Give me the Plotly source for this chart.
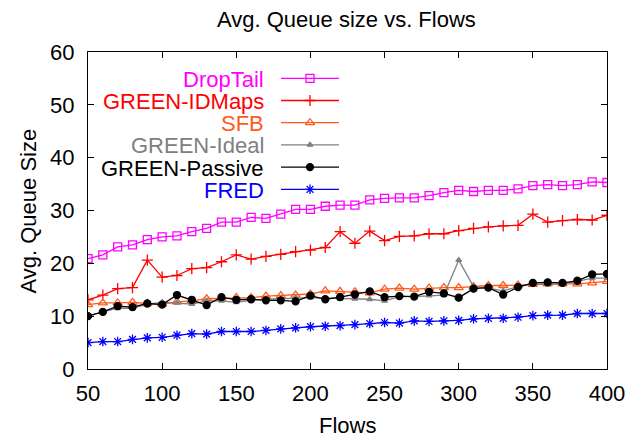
import plotly.graph_objects as go

flows = list(range(50, 401, 10))

droptail = [20.9, 21.6, 23.1, 23.5, 24.5, 25.0, 25.2, 26.0, 26.6, 27.8, 27.8, 28.7,
            28.5, 29.3, 30.2, 30.2, 30.8, 31.0, 31.0, 32.0, 32.3, 32.4, 32.4, 32.8,
            33.4, 33.8, 33.6, 33.8, 33.8, 34.1, 34.7, 34.9, 34.7, 34.9, 35.4, 35.3]
idmaps = [13.1, 14.0, 15.2, 15.4, 20.6, 17.4, 17.7, 19.0, 19.2, 20.3, 21.6, 20.8,
          21.3, 21.7, 22.2, 22.5, 23.0, 26.0, 23.8, 26.1, 24.3, 25.1, 25.2, 25.6,
          25.6, 26.2, 26.6, 26.9, 27.1, 27.2, 29.3, 27.8, 28.1, 28.3, 28.2, 29.1]
sfb = [12.2, 12.5, 12.5, 12.6, 12.4, 12.3, 12.7, 12.9, 13.3, 13.4, 13.5, 13.5,
       13.8, 13.9, 14.0, 14.2, 14.8, 14.7, 14.6, 14.4, 15.1, 15.3, 15.1, 15.3,
       15.4, 15.4, 15.6, 15.8, 15.8, 15.9, 16.0, 16.1, 16.1, 16.1, 16.3, 16.6]
ideal = [10.1, 10.8, 11.5, 11.5, 12.3, 12.6, 12.5, 12.3, 12.9, 12.9, 12.6, 13.0,
         13.2, 13.3, 13.5, 13.5, 13.4, 13.3, 13.3, 13.2, 12.9, 13.7, 13.7, 13.9,
         14.0, 20.6, 15.6, 15.3, 14.8, 15.6, 16.1, 16.0, 16.1, 16.6, 17.2, 17.2]
passive = [10.0, 10.8, 11.9, 11.7, 12.4, 12.2, 14.0, 13.1, 12.1, 13.6, 13.1, 13.2,
           13.0, 13.0, 12.8, 13.9, 13.2, 13.6, 14.1, 14.7, 13.6, 13.8, 13.7, 14.6,
           14.3, 13.5, 15.2, 15.4, 14.1, 15.5, 16.3, 16.4, 16.3, 16.7, 17.9, 18.0]
fred = [5.0, 5.2, 5.2, 5.6, 5.9, 6.0, 6.4, 6.7, 6.6, 7.1, 7.1, 7.1,
        7.3, 7.6, 7.8, 8.0, 8.1, 8.2, 8.4, 8.6, 8.8, 8.7, 9.1, 9.0,
        9.1, 9.2, 9.5, 9.6, 9.6, 9.8, 10.1, 10.2, 10.2, 10.5, 10.5, 10.5]

names = ["DropTail", "GREEN-IDMaps", "SFB", "GREEN-Ideal", "GREEN-Passive", "FRED"]
series = [droptail, idmaps, sfb, ideal, passive, fred]
colors = ["#ff00ff", "#ff0000", "#ff5a1a", "#808080", "#000000", "#0000ff"]
symbols = ["square-open", "cross-thin-open", "triangle-up-open", "triangle-up", "circle", "asterisk-open"]
msizes = [8, 8, 8, 5, 7, 8]

FONT = "Liberation Sans, Arial, sans-serif"
FS = 22

# plot area in pixels (for placing text in paper coordinates)
L, R, T, B = 88, 607, 52, 369
def px(x):
    return (x - L) / (R - L)
def py(y):
    return (B - y) / (B - T)

fig = go.Figure()
for name, ys, c, s, ms in zip(names, series, colors, symbols, msizes):
    fig.add_trace(go.Scatter(
        x=flows, y=ys, mode="lines+markers", name=name, showlegend=False,
        line=dict(color=c, width=1.3),
        marker=dict(symbol=s, size=ms, color=c, line=dict(color=c, width=1.3)),
    ))

# manual gnuplot-style key (pixel coordinates on an overlay axis)
key_y0 = 78.3
key_dy = 22.2
for i, (name, c, s, ms) in enumerate(zip(names, colors, symbols, msizes)):
    yy = key_y0 + i * key_dy
    fig.add_trace(go.Scatter(
        x=[281, 339], y=[yy, yy], mode="lines", xaxis="x2", yaxis="y2",
        line=dict(color=c, width=1.3), showlegend=False, hoverinfo="skip"))
    fig.add_trace(go.Scatter(
        x=[310], y=[yy], mode="markers", xaxis="x2", yaxis="y2",
        marker=dict(symbol=s, size=ms, color=c, line=dict(color=c, width=1.3)),
        showlegend=False, hoverinfo="skip"))
    fig.add_annotation(x=266, y=yy + 1, xref="x2", yref="y2", text=name,
                       showarrow=False, xanchor="right", yanchor="middle",
                       font=dict(family=FONT, size=FS, color=c))

# titles
fig.add_annotation(x=px(346), y=py(20), xref="paper", yref="paper",
                   text="Avg. Queue size vs. Flows",
                   showarrow=False, xanchor="center", yanchor="middle",
                   font=dict(family=FONT, size=FS, color="black"))
fig.add_annotation(x=px(347), y=py(425), xref="paper", yref="paper", text="Flows",
                   showarrow=False, xanchor="center", yanchor="middle",
                   font=dict(family=FONT, size=FS, color="black"))
fig.add_annotation(x=px(28), y=py(211.5), xref="paper", yref="paper",
                   text="Avg. Queue Size",
                   showarrow=False, xanchor="center", yanchor="middle", textangle=-90,
                   font=dict(family=FONT, size=FS, color="black"))

fig.update_layout(
    width=637, height=437,
    margin=dict(l=L, r=637 - R, t=T, b=437 - B),
    paper_bgcolor="white", plot_bgcolor="white",
    font=dict(family=FONT, size=FS, color="black"),
    xaxis=dict(range=[50, 400], tickvals=[50, 100, 150, 200, 250, 300, 350, 400],
               ticks="inside", ticklen=6, tickcolor="black", showline=True,
               linecolor="black", linewidth=1, mirror="ticks", showgrid=False,
               zeroline=False, ticklabelstandoff=5,
               tickfont=dict(family=FONT, size=FS)),
    yaxis=dict(range=[0, 60], tickvals=[0, 10, 20, 30, 40, 50, 60],
               ticks="inside", ticklen=6, tickcolor="black", showline=True,
               linecolor="black", linewidth=1, mirror="ticks", showgrid=False,
               zeroline=False, ticklabelstandoff=8,
               tickfont=dict(family=FONT, size=FS)),
    xaxis2=dict(range=[L, R], overlaying="x", visible=False, fixedrange=True),
    yaxis2=dict(range=[B, T], overlaying="y", visible=False, fixedrange=True),
)

fig.write_html("out.html")
